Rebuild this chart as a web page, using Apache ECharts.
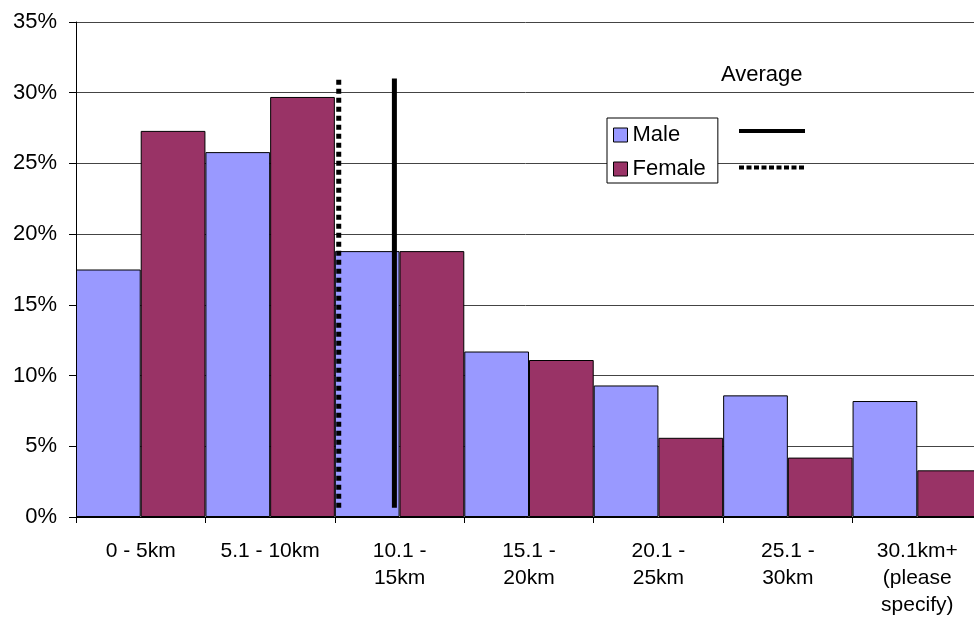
<!DOCTYPE html>
<html>
<head>
<meta charset="utf-8">
<script src="https://cdn.jsdelivr.net/npm/echarts@6/dist/echarts.min.js"></script>
<style>
  html, body { margin: 0; padding: 0; background: #fff; overflow: hidden; }
  #chart { width: 974px; height: 623px; }
</style>
</head>
<body>
<div id="chart"></div>
<script>
// Commute distance bands
const categories = ['0 - 5km', '5.1 - 10km', '10.1 -\n15km', '15.1 -\n20km', '20.1 -\n25km', '25.1 -\n30km', '30.1km+\n(please\nspecify)'];
// Share of respondents (%)
const maleValues = [17.5, 25.8, 18.8, 11.7, 9.3, 8.6, 8.2];
const femaleValues = [27.3, 29.7, 18.8, 11.1, 5.6, 4.2, 3.3];
// Average distance positions, in category-axis units (0 = left edge, 7 = right edge)
const maleAverage = 2.46;
const femaleAverage = 2.03;
// Vertical extent of the average markers (%)
const averageSpan = [0.65, 31];
const yTicks = { min: 0, max: 35, interval: 5 };

const font = 'Liberation Sans, Arial, sans-serif';
const chart = echarts.init(document.getElementById('chart'), null, { renderer: 'canvas' });

chart.setOption({
  animation: false,
  backgroundColor: '#fff',
  textStyle: { fontFamily: font },
  // the last band runs slightly past the right edge of the canvas
  grid: { left: 76, width: 906, top: 22, height: 495, containLabel: false, outerBoundsMode: 'none' },
  xAxis: [{
    type: 'category',
    data: categories,
    boundaryGap: true,
    axisLine: { lineStyle: { color: '#000', width: 1 } },
    axisTick: { show: true, length: 6, lineStyle: { color: '#000' } },
    axisLabel: { color: '#000', fontSize: 21, fontFamily: font, margin: 21, lineHeight: 27, interval: 0 },
    splitLine: { show: false }
  }, {
    type: 'value',
    min: 0, max: 7,
    show: false
  }],
  yAxis: {
    type: 'value',
    min: yTicks.min, max: yTicks.max, interval: yTicks.interval,
    axisLine: { show: true, lineStyle: { color: '#000', width: 1 } },
    axisTick: { show: true, length: 7, inside: false, lineStyle: { color: '#000' } },
    axisLabel: { color: '#000', fontSize: 22, fontFamily: font, margin: 19, formatter: '{value}%' },
    splitLine: { show: true, lineStyle: { color: '#444', width: 1 } }
  },
  legend: {
    data: ['Male', 'Female'],
    orient: 'vertical',
    left: 607, top: 118,
    itemWidth: 14, itemHeight: 14,
    itemGap: 10,
    padding: [5, 12, 2, 6],
    borderColor: '#000', borderWidth: 1,
    backgroundColor: '#fff',
    icon: 'rect',
    textStyle: { color: '#000', fontSize: 22, lineHeight: 24, fontFamily: font },
    itemStyle: { borderColor: '#000', borderWidth: 1 }
  },
  graphic: [
    { type: 'text', left: 721, top: 64, style: { text: 'Average', fill: '#000', fontSize: 22, fontFamily: font } },
    { type: 'line', shape: { x1: 739, y1: 131, x2: 805, y2: 131 }, style: { stroke: '#000', lineWidth: 4 } },
    { type: 'line', shape: { x1: 739, y1: 167.5, x2: 805, y2: 167.5 }, style: { stroke: '#000', lineWidth: 4, lineDash: [5, 2.5] } }
  ],
  series: [{
    name: 'Male',
    type: 'bar',
    data: maleValues,
    barGap: '0%',
    barCategoryGap: '0%',
    itemStyle: { color: '#9999FF', borderColor: '#000', borderWidth: 1 }
  }, {
    name: 'Female',
    type: 'bar',
    data: femaleValues,
    barGap: '0%',
    barCategoryGap: '0%',
    itemStyle: { color: '#993366', borderColor: '#000', borderWidth: 1 }
  }, {
    name: 'Female average',
    type: 'line',
    xAxisIndex: 1,
    data: [[femaleAverage, averageSpan[0]], [femaleAverage, averageSpan[1]]],
    symbol: 'none',
    lineStyle: { color: '#000', width: 5, type: [5, 4], cap: 'butt' },
    z: 5
  }, {
    name: 'Male average',
    type: 'line',
    xAxisIndex: 1,
    data: [[maleAverage, averageSpan[0]], [maleAverage, averageSpan[1]]],
    symbol: 'none',
    lineStyle: { color: '#000', width: 5 },
    z: 5
  }]
});
</script>
</body>
</html>
